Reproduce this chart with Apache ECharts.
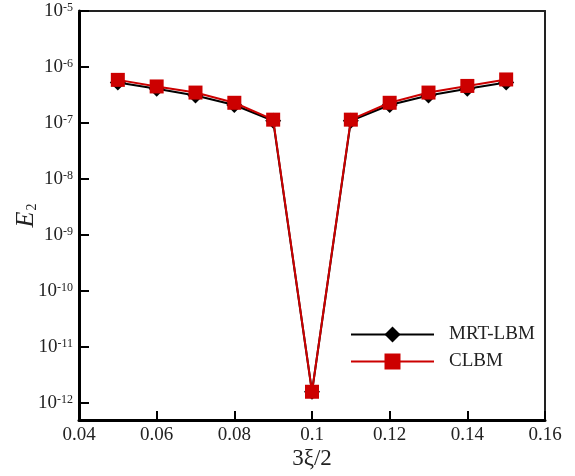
<!DOCTYPE html>
<html>
<head>
<meta charset="utf-8">
<script src="https://cdn.jsdelivr.net/npm/echarts@6/dist/echarts.min.js"></script>
<style>
  html, body { margin: 0; padding: 0; background: #fff; }
  #chart { width: 575px; height: 476px; }
</style>
</head>
<body>
<div id="chart"></div>
<script>
// Relative error E2 against the parameter 3ξ/2 for two lattice Boltzmann schemes
const xValues = [0.05, 0.06, 0.07, 0.08, 0.09, 0.10, 0.11, 0.12, 0.13, 0.14, 0.15];
const mrtLbm = [5.3e-7, 4.1e-7, 3.1e-7, 2.1e-7, 1.1e-7, 1.6e-12, 1.1e-7, 2.1e-7, 3.1e-7, 4.1e-7, 5.3e-7];
const clbm   = [5.9e-7, 4.5e-7, 3.5e-7, 2.3e-7, 1.15e-7, 1.6e-12, 1.15e-7, 2.3e-7, 3.5e-7, 4.6e-7, 6.0e-7];
const seriesNames = ['MRT-LBM', 'CLBM'];
const xTicks = { min: 0.04, max: 0.16, step: 0.02 };
const yRange = { min: Math.pow(10, -12.3), max: 1e-5 };

const FONT = '"Liberation Serif", "DejaVu Serif", serif';
const TEXT = '#222';
const TICK = '#000000';

const pairs = arr => xValues.map((x, i) => [x, arr[i]]);

// plain frame lines for the top and right sides of the plot box
const frameAxis = extra => Object.assign({
  axisLine: { show: true, onZero: false, lineStyle: { color: '#222', width: 2 } },
  axisTick: { show: false },
  axisLabel: { show: false },
  splitLine: { show: false }
}, extra);

const chart = echarts.init(document.getElementById('chart'), null, { renderer: 'canvas' });

chart.setOption({
  backgroundColor: '#ffffff',
  animation: false,
  grid: {
    left: 79, right: 30, top: 11, bottom: 56,
    outerBoundsMode: 'none',
    show: false
  },
  legend: {
    orient: 'vertical',
    left: 350, top: 325,
    padding: 0,
    itemWidth: 83, itemHeight: 20, itemGap: 8,
    textStyle: { fontFamily: FONT, fontSize: 19, color: TEXT, padding: [0, 0, 0, 10] },
    data: seriesNames
  },
  xAxis: [
    {
      type: 'value',
      min: xTicks.min, max: xTicks.max, interval: xTicks.step,
      name: '3ξ/2',
      nameLocation: 'middle', nameGap: 27, nameMoveOverlap: false,
      nameTextStyle: { fontFamily: FONT, fontSize: 23, color: TEXT },
      axisLine: { show: true, onZero: false, lineStyle: { color: '#000', width: 3 } },
      axisTick: { show: true, inside: true, length: 9, lineStyle: { color: TICK, width: 2 } },
      axisLabel: {
        fontFamily: FONT, fontSize: 19, color: TEXT, margin: 6,
        formatter: v => String(+v.toFixed(2))
      },
      splitLine: { show: false }
    },
    frameAxis({ type: 'value', position: 'top', min: xTicks.min, max: xTicks.max })
  ],
  yAxis: [
    {
      type: 'log',
      logBase: 10,
      min: yRange.min, max: yRange.max,
      splitNumber: 7,
      name: '{i|E}{s|2}',
      nameLocation: 'middle', nameGap: 40, nameMoveOverlap: false,
      nameRotate: 90,
      nameTextStyle: {
        fontFamily: FONT, color: TEXT,
        rich: {
          i: { fontFamily: FONT, fontSize: 26, fontStyle: 'italic', color: TEXT },
          s: { fontFamily: FONT, fontSize: 14, color: TEXT, verticalAlign: 'bottom', padding: [10, 0, 0, 1] }
        }
      },
      axisLine: { show: true, onZero: false, lineStyle: { color: '#000', width: 3 } },
      axisTick: { show: true, inside: true, length: 10, lineStyle: { color: TICK, width: 2 } },
      axisLabel: {
        margin: 6,
        formatter: v => {
          const e = Math.log10(v);
          if (Math.abs(e - Math.round(e)) > 1e-6) return '';
          return '{b|10}{e|' + Math.round(e) + '}';
        },
        rich: {
          b: { fontFamily: FONT, fontSize: 19, color: TEXT, lineHeight: 19, verticalAlign: 'bottom' },
          e: { fontFamily: FONT, fontSize: 12, color: TEXT, lineHeight: 12, verticalAlign: 'top', padding: [0, 0, 6, 0] }
        }
      },
      splitLine: { show: false }
    },
    frameAxis({ type: 'value', position: 'right', min: 0, max: 1 })
  ],
  series: [
    {
      name: seriesNames[0],
      type: 'line',
      data: pairs(mrtLbm),
      symbol: 'diamond',
      symbolSize: 16,
      showAllSymbol: true,
      color: '#000000',
      lineStyle: { color: '#000000', width: 2 },
      itemStyle: { color: '#000000' },
      z: 2
    },
    {
      name: seriesNames[1],
      type: 'line',
      data: pairs(clbm),
      symbol: 'rect',
      symbolSize: 14,
      showAllSymbol: true,
      color: '#cc0000',
      lineStyle: { color: '#cc0000', width: 2 },
      itemStyle: { color: '#cc0000' },
      z: 3
    }
  ]
});
</script>
</body>
</html>
